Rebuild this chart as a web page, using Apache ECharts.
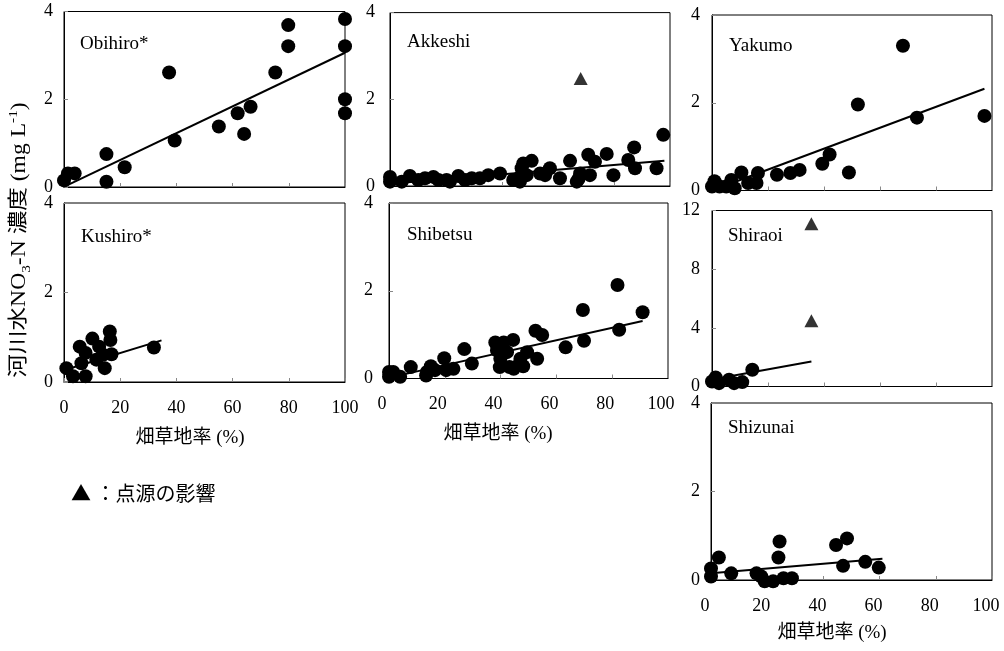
<!DOCTYPE html>
<html><head><meta charset="utf-8">
<script src="https://cdn.jsdelivr.net/npm/echarts@6/dist/echarts.min.js"></script>
<style>html,body{margin:0;padding:0;background:#fff}#c{width:1004px;height:651px}</style>
</head><body><div id="c"></div>
<script>
// ---------- data ----------
const xTickLabels = ['0','20','40','60','80','100'];
const panelNames = ['Obihiro*','Akkeshi','Yakumo','Kushiro*','Shibetsu','Shiraoi','Shizunai'];
const xAxisTitle = '畑草地率 (%)';
const legendText = '▲ ：点源の影響';

const obihiroPts = [[0,0.15],[1.4,0.31],[3.8,0.31],[15.1,0.75],[15.1,0.12],[21.6,0.45],[37.4,2.61],[39.4,1.06],[55.1,1.38],[61.8,1.68],[64.1,1.21],[66.4,1.83],[75.2,2.61],[79.8,3.69],[79.8,3.21],[100,3.83],[100,3.21],[100,2.0],[100,1.68]];
const obihiroTri = [];
const obihiroTrend = [[0.5,0.02],[100,3.06]];

const akkeshiPts = [[0,0.21],[0,0.10],[4.2,0.10],[7.1,0.23],[10.1,0.14],[12.5,0.18],[15.5,0.21],[17.3,0.14],[20.2,0.14],[21.4,0.10],[24.4,0.23],[26.8,0.14],[29.2,0.18],[32.1,0.18],[35.1,0.25],[39.3,0.29],[44.0,0.14],[46.4,0.10],[46.4,0.21],[47.0,0.41],[47.6,0.52],[48.8,0.25],[50.6,0.58],[53.6,0.29],[55.4,0.25],[57.1,0.41],[60.7,0.18],[64.3,0.58],[66.7,0.10],[67.3,0.16],[67.9,0.29],[70.8,0.72],[71.4,0.25],[73.2,0.56],[77.4,0.74],[79.8,0.25],[85.1,0.60],[87.2,0.89],[87.5,0.41],[95.2,0.41],[97.6,1.18]];
const akkeshiTri = [[68.1,2.48]];
const akkeshiTrend = [[0,0.05],[98,0.58]];

const yakumoPts = [[0,0.09],[0.9,0.21],[2.7,0.09],[5.1,0.09],[6.9,0.24],[8.1,0.05],[10.5,0.41],[12.9,0.17],[15.9,0.17],[16.4,0.40],[23.2,0.36],[28.0,0.40],[31.3,0.47],[39.4,0.61],[42.0,0.82],[48.9,0.41],[52.1,1.96],[68.2,3.30],[73.2,1.66],[97.3,1.70]];
const yakumoTri = [];
const yakumoTrend = [[0,0.0],[97.3,2.32]];

const kushiroPts = [[0.85,0.31],[3.2,0.13],[5.6,0.79],[6.2,0.42],[7.7,0.65],[7.7,0.13],[10.1,0.97],[11.5,0.50],[12.5,0.79],[13.9,0.61],[14.5,0.31],[16.3,1.13],[16.5,0.94],[16.9,0.62],[32.0,0.77]];
const kushiroTri = [];
const kushiroTrend = [[0.85,0.28],[34.7,0.93]];

const shibetsuPts = [[0,0.15],[0,0.04],[1.5,0.15],[4.0,0.04],[7.8,0.26],[13.3,0.07],[13.6,0.15],[15.0,0.28],[16.5,0.19],[19.8,0.46],[20.5,0.19],[23.1,0.22],[27.0,0.67],[29.7,0.34],[38.1,0.82],[38.7,0.64],[39.7,0.26],[39.9,0.45],[41.1,0.82],[42.3,0.60],[43.2,0.26],[44.5,0.88],[44.7,0.22],[46.8,0.34],[47.1,0.45],[48.1,0.28],[49.5,0.60],[52.5,1.09],[53.1,0.45],[54.9,0.99],[63.3,0.71],[69.5,1.56],[69.9,0.86],[81.9,2.13],[82.5,1.11],[90.9,1.51]];
const shibetsuTri = [];
const shibetsuTrend = [[0,0.02],[90.9,1.31]];

const shiraoiPts = [[0,0.34],[1.3,0.62],[2.5,0.23],[6.1,0.46],[7.9,0.23],[10.8,0.30],[14.4,1.14]];
const shiraoiTri = [[35.5,11.09],[35.5,4.49]];
const shiraoiTrend = [[0,0.48],[35.5,1.71]];

const shizunaiPts = [[0,0.26],[0,0.08],[2.8,0.51],[7.2,0.15],[16.2,0.15],[17.9,0.08],[19.1,-0.03],[22.1,-0.03],[24.0,0.51],[24.4,0.87],[25.8,0.04],[28.8,0.04],[44.5,0.79],[47.0,0.32],[48.4,0.94],[54.9,0.41],[59.7,0.28]];
const shizunaiTri = [];
const shizunaiTrend = [[0,0.15],[61,0.48]];

const panelPts = [obihiroPts, akkeshiPts, yakumoPts, kushiroPts, shibetsuPts, shiraoiPts, shizunaiPts];
const panelTri = [obihiroTri, akkeshiTri, yakumoTri, kushiroTri, shibetsuTri, shiraoiTri, shizunaiTri];
const panelTrend = [obihiroTrend, akkeshiTrend, yakumoTrend, kushiroTrend, shibetsuTrend, shiraoiTrend, shizunaiTrend];
const panelYMax = [4,4,4,4,4,12,4];
const panelYStep = [2,2,2,2,2,4,2];

// ---------- layout ----------
const layout = [
  {l:64, t:11.5, w:281, h:175.5, xl:false, ym:11, nx:80, ny:46},
  {l:390, t:12.6, w:280, h:173.4, xl:false, ym:15, nx:407, ny:44},
  {l:712, t:15, w:280, h:175.5, xl:false, ym:12, nx:729, ny:48},
  {l:64, t:203, w:281, h:179, xl:true, ym:11, shift:0, nx:81, ny:239},
  {l:389, t:203, w:279, h:175.5, xl:true, ym:16, shift:7, nx:407, ny:237},
  {l:712, t:210.5, w:280, h:176, xl:false, ym:12, nx:728, ny:238},
  {l:711, t:403, w:281, h:177, xl:true, ym:11, shift:6, nx:728, ny:430}
];
const titlePos = [[190,438],[498,434],[832,633]];

const serif = "'Liberation Serif','Times New Roman',serif";
const cjk = "'Liberation Serif','Noto Sans CJK JP',serif";

const grids = [], xAxes = [], yAxes = [], series = [], graphics = [];
layout.forEach((p, i) => {
  grids.push({left:p.l, top:p.t, width:p.w, height:p.h, show:true, borderColor:'#000', borderWidth:1, outerBoundsMode:'none', containLabel:false});
  xAxes.push({
    type:'value', gridIndex:i, min:0, max:100, interval:20,
    axisLine:{show:true, lineStyle:{color:'#000', width:1}},
    axisTick:{show:true, inside:true, length:4, lineStyle:{color:'#888'}},
    splitLine:{show:false},
    axisLabel:{show:p.xl, color:'#000', fontFamily:serif, fontSize:18, margin:17,
      padding: p.shift ? [0, 2*p.shift, 0, 0] : 0,
      formatter:(v)=> xTickLabels[Math.round(v/20)]}
  });
  yAxes.push({
    type:'value', gridIndex:i, min:0, max:panelYMax[i], interval:panelYStep[i],
    axisLine:{show:true, lineStyle:{color:'#000', width:1}},
    axisTick:{show:true, inside:true, length:4, lineStyle:{color:'#888'}},
    splitLine:{show:false},
    axisLabel:{show:true, color:'#000', fontFamily:serif, fontSize:18, margin:p.ym}
  });
  series.push({type:'scatter', xAxisIndex:i, yAxisIndex:i, data:panelPts[i], symbol:'circle', symbolSize:14, clip:false,
    itemStyle:{color:'#000', opacity:1}, z:3, silent:true});
  if (panelTri[i].length) series.push({type:'scatter', xAxisIndex:i, yAxisIndex:i, data:panelTri[i], symbol:'triangle', symbolSize:[14,13], clip:false,
    itemStyle:{color:'#000'}, z:3, silent:true});
  series.push({type:'line', xAxisIndex:i, yAxisIndex:i, data:panelTrend[i], showSymbol:false, symbol:'none', clip:false,
    lineStyle:{color:'#000', width:2}, z:4, silent:true, animation:false});
  graphics.push({type:'text', left:p.nx, top:p.ny - 11, style:{text:panelNames[i], font:"19px " + serif, fill:'#000'}});
});
titlePos.forEach(([x,y]) => {
  graphics.push({type:'text', x:x, y:y, style:{text:xAxisTitle, font:"19px " + cjk, fill:'#000', align:'center', verticalAlign:'middle'}});
});
graphics.push({type:'text', x:71, y:493, style:{text:legendText, font:"20px 'Noto Sans CJK JP'", fill:'#000', align:'left', verticalAlign:'middle'}});
graphics.push({type:'text', x:20, y:240, rotation:Math.PI/2, scaleX:1.18, scaleY:1,
  style:{text:'{a|河川水NO}{s|3}{a|-N 濃度 (mg L}{u|-1}{a|)}', align:'center', verticalAlign:'middle',
    rich:{
      a:{fontFamily:cjk, fontSize:20, lineHeight:26, fill:'#000', color:'#000'},
      s:{fontFamily:serif, fontSize:13, lineHeight:13, verticalAlign:'bottom', color:'#000'},
      u:{fontFamily:serif, fontSize:13, lineHeight:13, verticalAlign:'top', color:'#000'}
    }}});

const chart = echarts.init(document.getElementById('c'), null, {renderer:'canvas'});
chart.setOption({animation:false, backgroundColor:'#fff', grid:grids, xAxis:xAxes, yAxis:yAxes, series:series, graphic:graphics});
</script></body></html>
